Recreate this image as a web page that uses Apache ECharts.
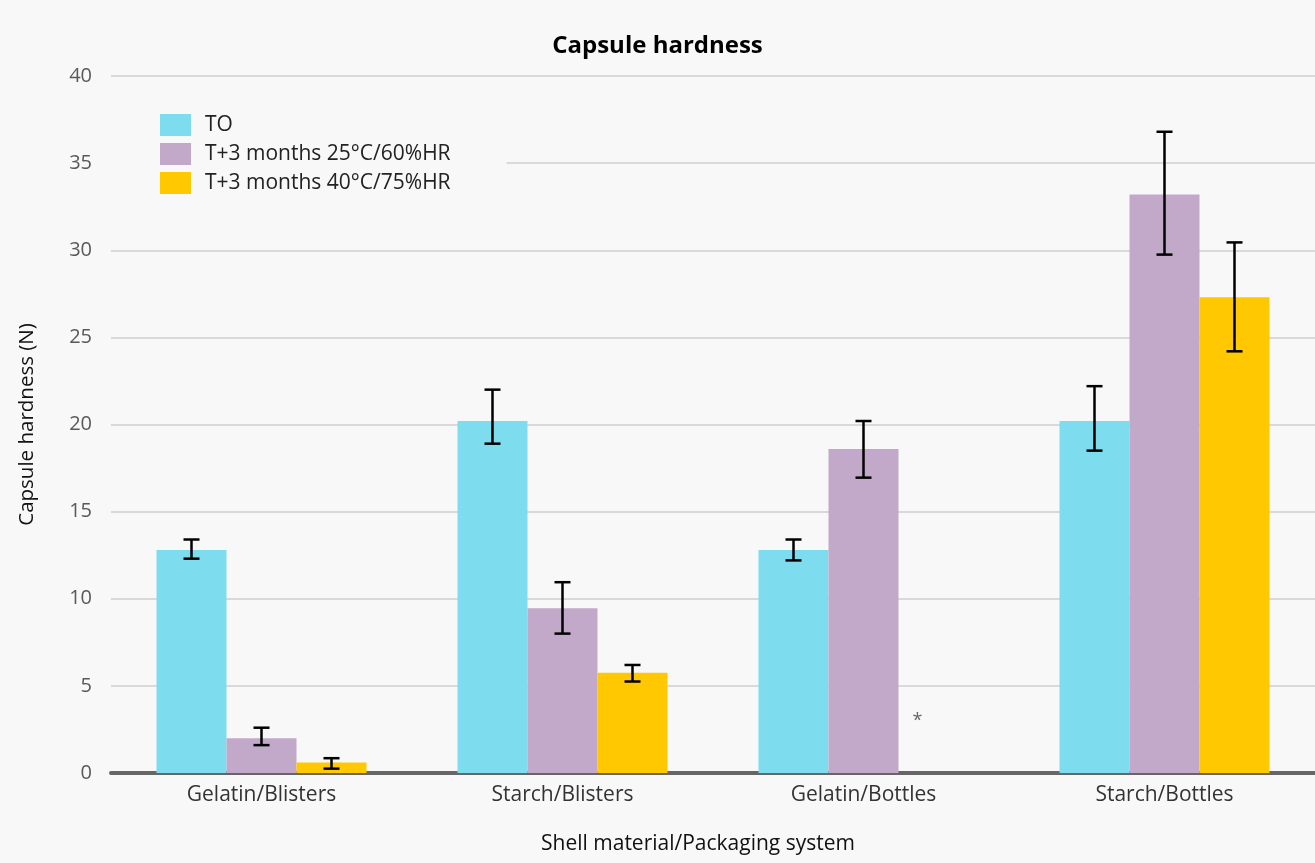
<!DOCTYPE html>
<html>
<head>
<meta charset="utf-8">
<script src="https://cdn.jsdelivr.net/npm/echarts@6/dist/echarts.min.js"></script>
<style>
html,body{margin:0;padding:0;background:#ffffff;}
#chart{width:1315px;height:863px;}
</style>
</head>
<body>
<div id="chart"></div>
<script>
// ---- data ----
var categories = ['Gelatin/Blisters', 'Starch/Blisters', 'Gelatin/Bottles', 'Starch/Bottles'];
var seriesNames = ['TO', 'T+3 months 25°C/60%HR', 'T+3 months 40°C/75%HR'];
var valuesT0 = [12.8, 20.2, 12.8, 20.2];
var lowT0 = [12.3, 18.9, 12.2, 18.5];
var highT0 = [13.4, 22.0, 13.4, 22.2];
var values25 = [2.0, 9.45, 18.6, 33.2];
var low25 = [1.6, 8.0, 16.95, 29.75];
var high25 = [2.6, 10.95, 20.2, 36.8];
var values40 = [0.6, 5.75, null, 27.3];
var low40 = [0.25, 5.25, null, 24.2];
var high40 = [0.85, 6.2, null, 30.45];
var asteriskCategoryIndex = 2;
var asteriskValue = 3.0;
var yTicks = {min: 0, max: 40, interval: 5};

var colors = ['#7DDCEE', '#C2A9CA', '#FFC800'];
var bgColor = '#f8f8f8';
var BAR_W = 70;

function errData(low, high) {
  var out = [];
  for (var i = 0; i < categories.length; i++) {
    if (low[i] == null) continue;
    out.push([i, low[i], high[i]]);
  }
  return out;
}

function errSeries(low, high, offset) {
  return {
    type: 'custom',
    silent: true,
    z: 5,
    data: errData(low, high),
    encode: {x: 0, y: [1, 2]},
    renderItem: function (params, api) {
      var lo = api.coord([api.value(0), api.value(1)]);
      var hi = api.coord([api.value(0), api.value(2)]);
      var x = lo[0] + offset;
      var cap = 8;
      var st = {stroke: '#000', lineWidth: 2.5};
      return {
        type: 'group',
        children: [
          {type: 'line', shape: {x1: x, y1: lo[1], x2: x, y2: hi[1]}, style: st},
          {type: 'line', shape: {x1: x - cap, y1: lo[1], x2: x + cap, y2: lo[1]}, style: st},
          {type: 'line', shape: {x1: x - cap, y1: hi[1], x2: x + cap, y2: hi[1]}, style: st}
        ]
      };
    }
  };
}

var chart = echarts.init(document.getElementById('chart'));
var font = '"Open Sans", "Noto Sans", sans-serif';

var option = {
  backgroundColor: bgColor,
  animation: false,
  textStyle: {fontFamily: font},
  title: {
    text: 'Capsule hardness',
    left: 'center',
    top: 29,
    padding: [5, 5, 5, 17],
    textStyle: {fontFamily: font, fontSize: 24, fontWeight: 'bold', color: '#000'}
  },
  legend: {
    data: seriesNames,
    orient: 'vertical',
    left: 110,
    top: 104,
    padding: [10, 56, 10, 50],
    backgroundColor: bgColor,
    itemWidth: 31,
    itemHeight: 22,
    itemGap: 7,
    icon: 'rect',
    textStyle: {fontFamily: font, fontSize: 21, color: '#222', padding: [0, 0, 0, 9]}
  },
  grid: {left: 111, right: 0, top: 76, bottom: 90, containLabel: false},
  xAxis: {
    type: 'category',
    data: categories,
    name: 'Shell material/Packaging system',
    nameLocation: 'middle',
    nameGap: 61,
    nameTextStyle: {fontFamily: font, fontSize: 21, color: '#111', padding: [0, 30, 0, 0]},
    axisLine: {lineStyle: {color: '#666', width: 4}},
    axisTick: {show: false},
    axisLabel: {fontFamily: font, fontSize: 21, color: '#333', margin: 12}
  },
  yAxis: {
    type: 'value',
    min: yTicks.min,
    max: yTicks.max,
    interval: yTicks.interval,
    name: 'Capsule hardness (N)',
    nameLocation: 'middle',
    nameGap: 73,
    nameTextStyle: {fontFamily: font, fontSize: 20.5, color: '#111'},
    axisLine: {show: false},
    axisTick: {show: false},
    axisLabel: {fontFamily: font, fontSize: 20, color: '#595959', margin: 19},
    splitLine: {lineStyle: {color: '#cfcfcf', width: 1.5}}
  },
  series: [
    {name: seriesNames[0], type: 'bar', data: valuesT0, barWidth: BAR_W, barGap: '0%', itemStyle: {color: colors[0]}},
    {name: seriesNames[1], type: 'bar', data: values25, barWidth: BAR_W, barGap: '0%', itemStyle: {color: colors[1]}},
    {name: seriesNames[2], type: 'bar', data: values40, barWidth: BAR_W, barGap: '0%', itemStyle: {color: colors[2]}},
    errSeries(lowT0, highT0, -BAR_W),
    errSeries(low25, high25, 0),
    errSeries(low40, high40, BAR_W),
    {
      type: 'custom',
      silent: true,
      z: 6,
      data: [[asteriskCategoryIndex, asteriskValue]],
      encode: {x: 0, y: 1},
      renderItem: function (params, api) {
        var p = api.coord([api.value(0), api.value(1)]);
        return {
          type: 'text',
          x: p[0] + 54,
          y: p[1],
          style: {text: '*', fill: '#666', font: '18px ' + font, textAlign: 'center', textVerticalAlign: 'middle'}
        };
      }
    }
  ]
};
chart.setOption(option);
</script>
</body>
</html>
